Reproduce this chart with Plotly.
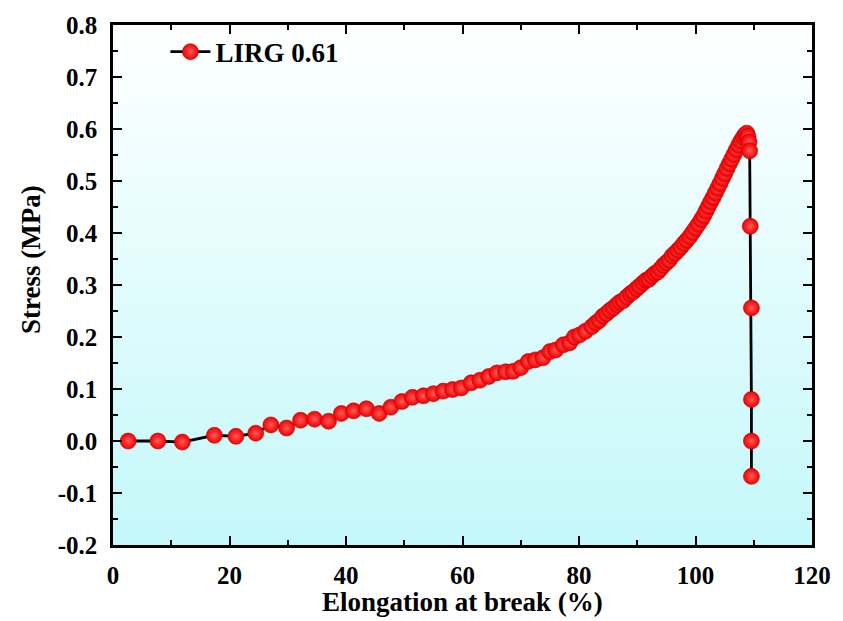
import plotly.graph_objects as go

# ---- data ----
elongation = [2.6, 7.7, 11.9, 17.4, 21.1, 24.5, 27.1, 29.8, 32.2, 34.6, 37.0, 39.2,
              41.3, 43.5, 45.7, 47.7, 49.6, 51.4, 53.3, 55.0, 56.7, 58.3, 59.8,
              61.5, 63.0, 64.5, 65.9, 67.4, 68.7, 70.0, 71.3, 72.5, 73.8, 75.0,
              76.0, 77.3, 78.4, 79.2, 80.1, 81.1, 82.2, 82.9,
              83.5, 84.1, 84.7, 85.3, 85.9, 86.5, 87.0, 87.6, 88.2, 88.8, 89.3,
              89.9, 90.4, 91.0, 91.5, 92.0, 92.5, 93.0, 93.5, 94.0, 94.5, 95.0,
              95.5, 96.0, 96.5, 97.0, 97.5, 98.0, 98.5, 99.0, 99.5, 100.0, 100.5,
              101.0, 101.4, 101.8, 102.2, 102.6, 103.0, 103.4, 103.8, 104.2, 104.6,
              105.0, 105.4, 105.8, 106.2, 106.6, 107.0, 107.4, 107.8, 108.2, 108.5,
              108.8, 109.0, 109.2, 109.3, 109.4, 109.6, 109.6, 109.6, 109.6]
stress = [0.000, 0.000, -0.002, 0.011, 0.009, 0.015, 0.031, 0.025, 0.040, 0.042, 0.038, 0.053,
          0.058, 0.062, 0.053, 0.065, 0.076, 0.084, 0.087, 0.091, 0.096, 0.099, 0.102,
          0.112, 0.117, 0.124, 0.131, 0.133, 0.134, 0.141, 0.153, 0.156, 0.160, 0.172,
          0.175, 0.185, 0.189, 0.200, 0.204, 0.211, 0.220, 0.227,
          0.232, 0.240, 0.245, 0.251, 0.256, 0.262, 0.267, 0.270, 0.277, 0.283, 0.287,
          0.293, 0.298, 0.304, 0.309, 0.311, 0.317, 0.322, 0.325, 0.331, 0.338, 0.343,
          0.348, 0.356, 0.361, 0.367, 0.373, 0.380, 0.386, 0.393, 0.401, 0.409, 0.417,
          0.426, 0.433, 0.442, 0.451, 0.460, 0.468, 0.477, 0.486, 0.495, 0.505,
          0.514, 0.524, 0.533, 0.542, 0.551, 0.560, 0.569, 0.577, 0.584, 0.589,
          0.592, 0.586, 0.575, 0.558, 0.413, 0.256, 0.080, 0.000, -0.068]

series_name = "LIRG 0.61"
x_tickvals = [0, 20, 40, 60, 80, 100, 120]
x_ticktext = ["0", "20", "40", "60", "80", "100", "120"]
y_tickvals = [-0.2, -0.1, 0.0, 0.1, 0.2, 0.3, 0.4, 0.5, 0.6, 0.7, 0.8]
y_ticktext = ["-0.2", "-0.1", "0.0", "0.1", "0.2", "0.3", "0.4", "0.5", "0.6", "0.7", "0.8"]

FONT = "Times New Roman, Liberation Serif, DejaVu Serif, serif"

fig = go.Figure()
fig.add_trace(go.Scatter(
    x=elongation, y=stress, name=series_name, mode="lines+markers",
    line=dict(color="black", width=2.8),
    marker=dict(size=16, color="#f00000",
                gradient=dict(type="radial", color="#ff5a5a"),
                line=dict(color="#c80000", width=0.6)),
))

# vertical white -> light cyan gradient background of the plot area
n_bands = 80
top = (255, 255, 255)
bot = (196, 248, 250)
for i in range(n_bands):
    t = (i + 0.5) / n_bands
    c = tuple(round(top[k] + (bot[k] - top[k]) * t) for k in range(3))
    fig.add_shape(type="rect", xref="x domain", yref="y domain",
                  x0=0, x1=1, y0=1 - (i + 1) / n_bands, y1=1 - i / n_bands + 0.002,
                  line=dict(width=0), fillcolor="rgb(%d,%d,%d)" % c, layer="below")

axis_common = dict(
    showline=True, linecolor="black", linewidth=2.5, mirror="allticks",
    ticks="inside", ticklen=9, tickwidth=2, tickcolor="black",
    showgrid=False, zeroline=False,
    tickfont=dict(family=FONT, size=25, color="black", weight="bold"),
)
fig.update_xaxes(range=[0, 120], tickmode="array", tickvals=x_tickvals, ticktext=x_ticktext,
                 minor=dict(ticks="inside", ticklen=5, tickwidth=2, tickcolor="black", dtick=10, showgrid=False),
                 ticklabelstandoff=6, **axis_common)
fig.update_yaxes(range=[-0.2, 0.8], tickmode="array", tickvals=y_tickvals, ticktext=y_ticktext,
                 minor=dict(ticks="inside", ticklen=5, tickwidth=2, tickcolor="black", dtick=0.05, showgrid=False),
                 ticklabelstandoff=8, **axis_common)

fig.add_annotation(text="Elongation at break (%)", xref="paper", yref="paper",
                   x=0.5, y=-0.11, showarrow=False, xanchor="center", yanchor="middle",
                   font=dict(family=FONT, size=27, color="black", weight="bold"))
fig.add_annotation(text="Stress (MPa)", xref="paper", yref="paper",
                   x=-0.118, y=0.549, showarrow=False, textangle=-90,
                   xanchor="center", yanchor="middle",
                   font=dict(family=FONT, size=27, color="black", weight="bold"))

fig.update_layout(
    width=843, height=621,
    margin=dict(l=113, r=26, t=20, b=76),
    paper_bgcolor="white", plot_bgcolor="rgba(0,0,0,0)",
    showlegend=True,
    legend=dict(x=0.075, y=0.995, xanchor="left", yanchor="top", bgcolor="rgba(0,0,0,0)",
                font=dict(family=FONT, size=27, color="black", weight="bold"),
                itemwidth=40),
)

fig.write_html("out.html")
